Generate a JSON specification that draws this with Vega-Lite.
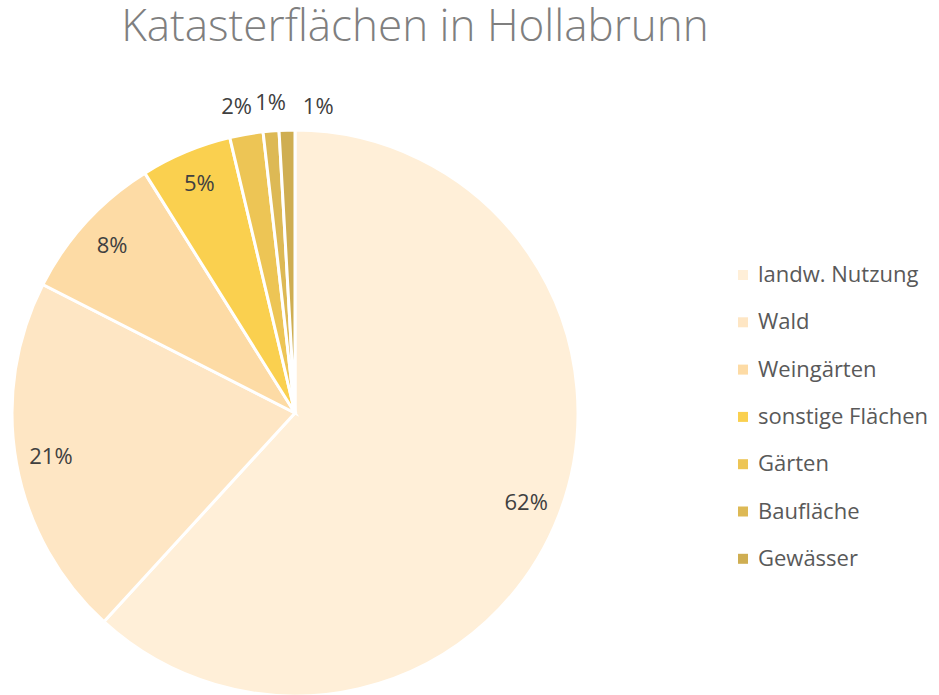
{
  "$schema": "https://vega.github.io/schema/vega-lite/v6.json",
  "width": 564,
  "height": 564,
  "autosize": {"type": "none"},
  "padding": {"left": 13, "top": 131, "right": 362, "bottom": 0},
  "background": "white",
  "title": {
    "text": "Katasterflächen in Hollabrunn",
    "font": "Open Sans",
    "fontSize": 44,
    "fontWeight": 300,
    "color": "#7f7f7f",
    "anchor": "middle",
    "frame": "group",
    "baseline": "alphabetic",
    "offset": 6,
    "dx": 120,
    "limit": 900
  },
  "config": {"view": {"stroke": null}},
  "data": {
    "values": [
      {"idx": 1, "kategorie": "landw. Nutzung", "anteil": 61.8, "label": "62%"},
      {"idx": 2, "kategorie": "Wald", "anteil": 20.7, "label": "21%"},
      {"idx": 3, "kategorie": "Weingärten", "anteil": 8.6, "label": "8%"},
      {"idx": 4, "kategorie": "sonstige Flächen", "anteil": 5.2, "label": "5%"},
      {"idx": 5, "kategorie": "Gärten", "anteil": 1.9, "label": "2%"},
      {"idx": 6, "kategorie": "Baufläche", "anteil": 0.9, "label": "1%"},
      {"idx": 7, "kategorie": "Gewässer", "anteil": 0.9, "label": "1%"}
    ]
  },
  "encoding": {
    "theta": {"field": "anteil", "type": "quantitative", "stack": true},
    "order": {"field": "idx", "type": "quantitative"}
  },
  "layer": [
    {
      "mark": {"type": "arc", "outerRadius": 283, "stroke": "white", "strokeWidth": 3},
      "encoding": {
        "color": {
          "field": "kategorie",
          "type": "nominal",
          "sort": ["landw. Nutzung", "Wald", "Weingärten", "sonstige Flächen", "Gärten", "Baufläche", "Gewässer"],
          "scale": {
            "domain": ["landw. Nutzung", "Wald", "Weingärten", "sonstige Flächen", "Gärten", "Baufläche", "Gewässer"],
            "range": ["#FFEFD8", "#FEE6C4", "#FDDBA5", "#FAD04F", "#EDC555", "#DDB955", "#CFAE52"]
          },
          "legend": {
            "title": null,
            "orient": "none",
            "legendX": 719,
            "legendY": 133,
            "symbolType": "square",
            "symbolSize": 100,
            "symbolStrokeWidth": 0,
            "labelFont": "Open Sans",
            "labelFontSize": 22,
            "labelColor": "#595959",
            "labelOffset": 4,
            "rowPadding": 25.3,
            "labelLimit": 300
          }
        }
      }
    },
    {
      "mark": {"type": "text", "radius": 248, "font": "Open Sans", "fontSize": 22, "color": "#404040"},
      "encoding": {
        "text": {"condition": {"test": "datum.anteil >= 5", "field": "label"}, "value": ""}
      }
    },
    {
      "mark": {"type": "text", "radius": 311, "dx": -5, "font": "Open Sans", "fontSize": 22, "color": "#404040"},
      "encoding": {
        "text": {"condition": {"test": "datum.idx == 5", "field": "label"}, "value": ""}
      }
    },
    {
      "mark": {"type": "text", "radius": 311, "dx": 2, "font": "Open Sans", "fontSize": 22, "color": "#404040"},
      "encoding": {
        "text": {"condition": {"test": "datum.idx == 6", "field": "label"}, "value": ""}
      }
    },
    {
      "mark": {"type": "text", "radius": 311, "dx": 32, "dy": 5, "font": "Open Sans", "fontSize": 22, "color": "#404040"},
      "encoding": {
        "text": {"condition": {"test": "datum.idx == 7", "field": "label"}, "value": ""}
      }
    }
  ]
}
